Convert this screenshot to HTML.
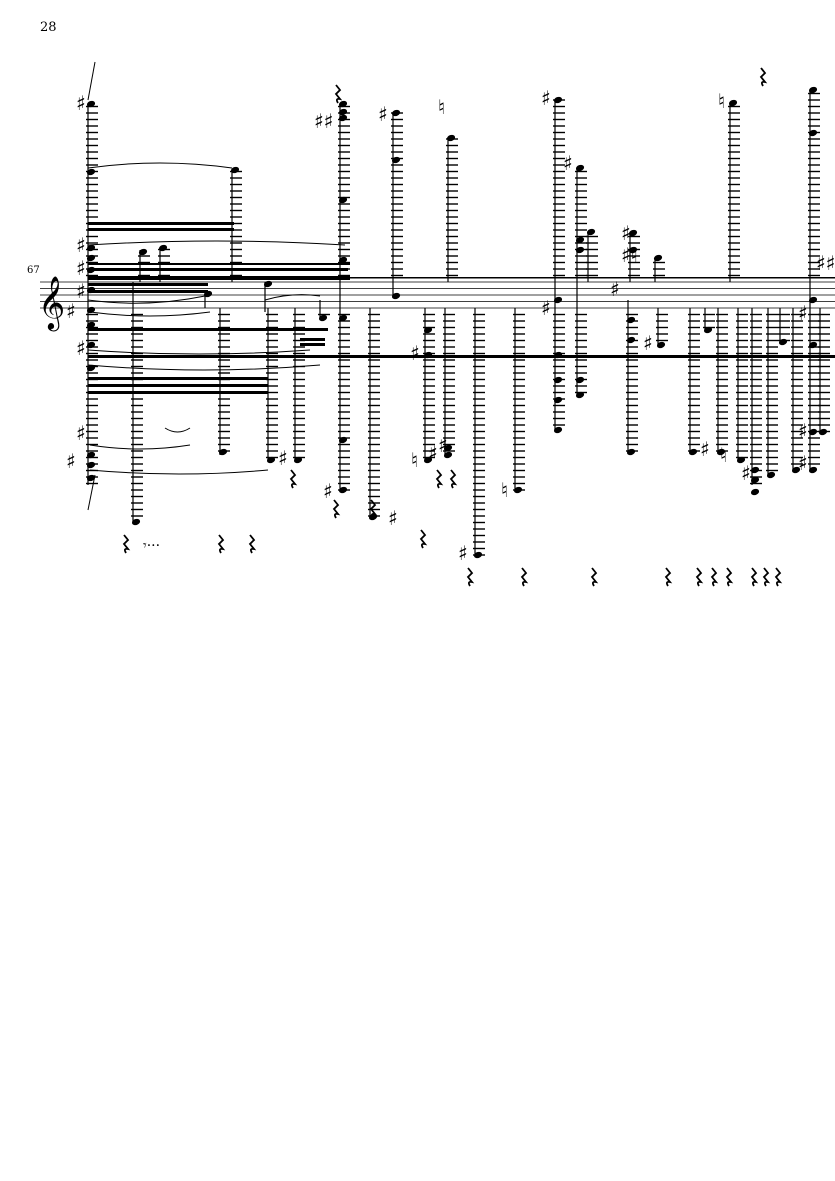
<!DOCTYPE html>
<html><head><meta charset="utf-8"><style>
html,body{margin:0;padding:0;background:#fff;}
svg{display:block}
text{font-family:"DejaVu Serif","Liberation Serif",serif;}
</style></head><body>
<svg id="s" width="835" height="1181" viewBox="0 0 835 1181" xmlns="http://www.w3.org/2000/svg">
<text x="40" y="31" font-size="13" font-family="Liberation Serif">28</text>
<text x="27" y="273" font-size="10" font-family="Liberation Serif">67</text>
<text x="38" y="318" font-size="46">𝄞</text>
<g stroke="#000" stroke-width="0.8">
<line x1="40" y1="282" x2="835" y2="282"/>
<line x1="40" y1="288.5" x2="835" y2="288.5"/>
<line x1="40" y1="295" x2="835" y2="295"/>
<line x1="40" y1="301.5" x2="835" y2="301.5"/>
<line x1="40" y1="308" x2="835" y2="308"/>
</g>
<g fill="#000">
<rect x="88" y="355" width="747" height="3"/>
<rect x="88" y="276" width="262" height="4"/>
<rect x="88" y="268" width="260" height="3"/>
<rect x="88" y="283" width="120" height="3"/>
<rect x="88" y="290" width="120" height="3"/>
<rect x="88" y="328" width="240" height="3"/>
<rect x="88" y="377" width="180" height="3"/>
<rect x="88" y="384" width="180" height="3"/>
<rect x="88" y="391" width="180" height="3"/>
<rect x="88" y="222" width="146" height="3"/>
<rect x="88" y="228" width="146" height="3"/>
<rect x="88" y="263" width="262" height="2"/>
<rect x="300" y="338" width="25" height="3"/>
<rect x="300" y="343" width="25" height="3"/>
<rect x="340" y="277" width="495" height="1.5"/>
</g>
<g id="g" stroke="#000" fill="none"></g>
<g id="n" fill="#000"></g>
<g id="t" font-size="20" fill="#000"></g>
<g id="r" stroke="#000" fill="none" stroke-width="1.8"></g>
</svg>
<script>
var g=document.getElementById('g'),n=document.getElementById('n'),t=document.getElementById('t'),rr=document.getElementById('r');
var NS="http://www.w3.org/2000/svg";
function el(p,tag,a){var e=document.createElementNS(NS,tag);for(var k in a)e.setAttribute(k,a[k]);p.appendChild(e);return e;}
var cols=[
[88,104,485,[104,172,248,258,270,290,310,325,345,368,455,465,478]],
[133,282,522,[522]],[160,248,282,[248]],[140,250,282,[252]],
[232,170,282,[170]],[205,295,308,[294]],[265,282,312,[284]],
[220,308,455,[452]],[268,308,460,[460]],[295,308,460,[460]],[320,300,318,[318]],
[340,104,490,[104,112,118,200,260,318,440,490]],[393,113,296,[113,160,296]],[370,308,517,[517]],
[448,138,282,[138]],[425,308,460,[330,355,460]],[445,308,455,[448,455]],
[475,308,555,[555]],[515,308,490,[490]],[555,100,430,[100,300,355,380,400,430]],
[577,168,395,[168,240,250,380,395]],[588,232,282,[232]],[630,233,282,[233,250]],
[655,258,282,[258]],[628,300,452,[320,340,452]],[658,308,345,[345]],
[690,308,452,[452]],[705,308,330,[330]],[730,103,282,[103]],[718,308,452,[452]],
[738,308,460,[460]],[752,308,485,[470,480,492]],[768,308,475,[475]],[780,308,342,[342]],
[793,308,470,[470]],[810,90,470,[90,133,300,345,432,470]],[820,308,432,[432]]
];
cols.forEach(function(c){
 var x=c[0];
 el(g,'line',{x1:x,y1:c[1],x2:x,y2:c[2],'stroke-width':1.2});
 for(var y=275.5;y>=c[1];y-=6.5) el(g,'line',{x1:x-2,y1:y,x2:x+10,y2:y,'stroke-width':1.4});
 for(var y=314.5;y<=c[2];y+=6.5) el(g,'line',{x1:x-2,y1:y,x2:x+10,y2:y,'stroke-width':1.4});
 c[3].forEach(function(y){el(n,'ellipse',{cx:x+3,cy:y,rx:4.2,ry:3,transform:'rotate(-20 '+(x+3)+' '+y+')'});});
});
[[88,168,232,168,-10],[88,245,345,245,-8],[88,300,205,296,8],[90,312,210,312,8],[88,350,310,350,8],[88,365,320,365,10],[90,445,190,445,8],[90,470,268,470,8],[165,428,190,428,8],[265,300,320,296,-8]].forEach(function(a){
 el(g,'path',{d:'M'+a[0]+' '+a[1]+' Q'+((a[0]+a[2])/2)+' '+(a[1]+a[4])+' '+a[2]+' '+a[3],'stroke-width':1});});
var acc=[[76,110,'♯'],[76,252,'♯'],[76,275,'♯'],[76,298,'♯'],[66,318,'♯'],[76,355,'♯'],[76,440,'♯'],[66,468,'♯'],[314,128,'♯♯'],[378,121,'♯'],[438,114,'♮'],[278,465,'♯'],[323,498,'♯'],[388,525,'♯'],[410,360,'♯'],[411,467,'♮'],[428,460,'♯'],[438,452,'♯'],[458,560,'♯'],[501,497,'♮'],[541,105,'♯'],[563,170,'♯'],[541,315,'♯'],[621,240,'♯'],[621,262,'♯♮'],[610,296,'♯'],[643,350,'♯'],[718,108,'♮'],[700,456,'♯'],[720,462,'♮'],[741,480,'♯'],[798,320,'♯'],[798,438,'♯'],[798,470,'♯'],[816,270,'♯♯']];
acc.forEach(function(a){var e=el(t,'text',{x:a[0],y:a[1]});e.textContent=a[2];});
var rests=[[337,85],[762,68],[292,470],[335,500],[372,500],[422,530],[438,470],[452,470],[125,535],[220,535],[251,535],[469,568],[523,568],[593,568],[667,568],[698,568],[713,568],[728,568],[753,568],[765,568],[777,568]];
rests.forEach(function(r){var x=r[0],y=r[1];el(rr,'path',{d:'M'+(x-1)+' '+y+' l4 5 l-4 4 l4 5 q-5 -1 -2 4'});});
var e=el(t,'text',{x:143,y:550,'font-size':14});e.textContent='𝄾···';
el(g,'line',{x1:88,y1:100,x2:95,y2:62,'stroke-width':1});
el(g,'line',{x1:88,y1:510,x2:95,y2:475,'stroke-width':1});
</script>
</body></html>
